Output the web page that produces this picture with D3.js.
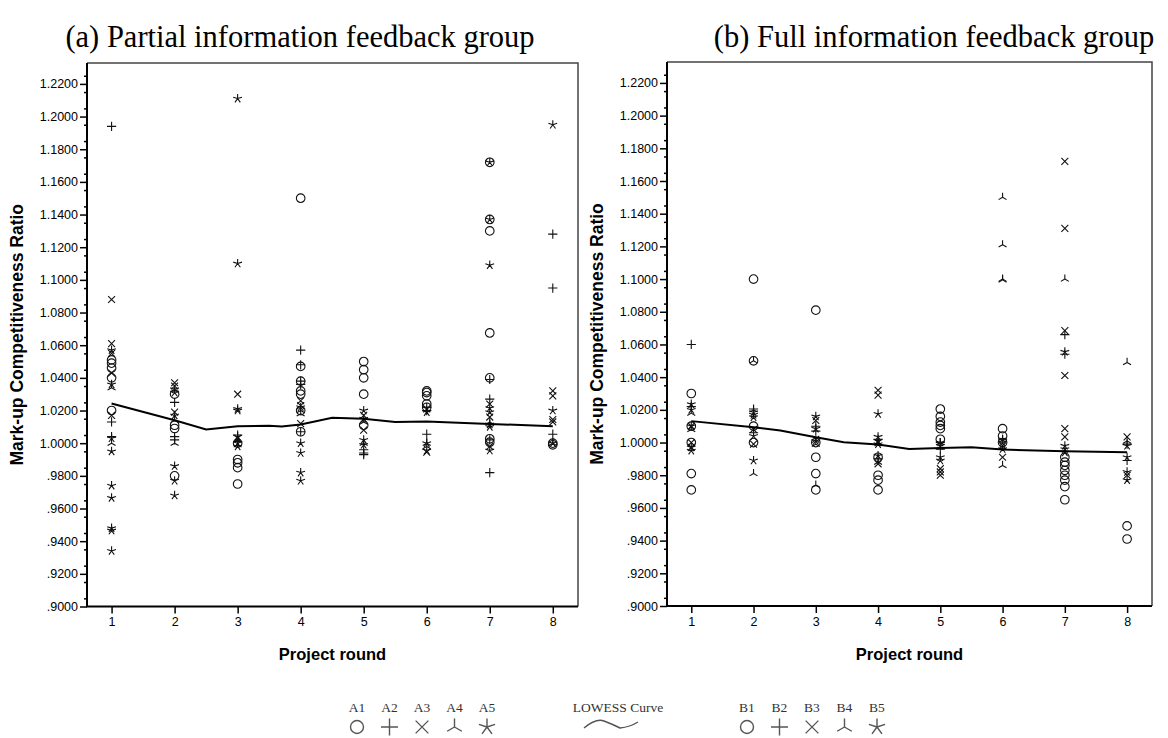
<!DOCTYPE html>
<html>
<head>
<meta charset="utf-8">
<script src="https://cdn.jsdelivr.net/npm/d3@7"></script>
<style>
  body { margin: 0; background: #fff; }
  svg { display: block; }
  .tick text { font-family: Arial, "Liberation Sans", sans-serif; font-size: 12.5px; fill: #000; }
  .domain { display: none; }
</style>
</head>
<body>
<div id="chart"></div>
<script>
// rounds on the x axis
var rounds = [1, 2, 3, 4, 5, 6, 7, 8];
var yTicks = d3.range(0, 17).map(function(i) { return +(0.90 + i * 0.02).toFixed(2); });
var yMinor = d3.range(0, 33).map(function(i) { return +(0.905 + i * 0.01).toFixed(3); });

// partial information group, one list per round (index 0 = round 1)
var A1 = [[1.051, 1.049, 1.046, 1.040, 1.020], [1.030, 1.011, 1.009, 0.980], [1.000, 0.990, 0.988, 0.985, 0.975],
  [1.150, 1.047, 1.038, 1.032, 1.030, 1.020, 1.007], [1.050, 1.045, 1.040, 1.030, 1.011], [1.032, 1.031, 1.029, 1.024, 1.022],
  [1.172, 1.137, 1.130, 1.0675, 1.040, 1.0027, 1.0006], [1.000, 0.999]];
var A2 = [[1.194, 1.013, 1.004], [1.025, 1.004, 1.002], [1.005, 1.001], [1.057, 1.048, 1.038, 1.036, 1.007],
  [0.996, 0.994, 0.993], [1.022, 1.0055, 1.020], [1.039, 1.027, 1.002, 0.982], [1.128, 1.095, 1.0055]];
var A3 = [[1.088, 1.061, 1.055, 1.043, 1.017], [1.037, 1.035, 1.019], [1.030, 1.003], [1.026, 1.023, 1.012],
  [1.017, 1.008], [1.021, 0.9945], [1.024, 1.016, 0.998], [1.032, 1.029, 1.0145, 1.013]];
var A4 = [[1.034, 1.000], [1.014, 1.000], [1.002, 0.999], [1.020, 1.018], [1.013, 1.000], [1.000, 0.998], [1.013], [1.000]];
var A5 = [[1.057, 1.036, 1.003, 0.995, 0.974, 0.9665, 0.948, 0.9465, 0.934], [1.033, 1.031, 1.017, 0.986, 0.977, 0.968],
  [1.211, 1.110, 1.021, 1.020, 1.004, 1.000, 0.998], [1.022, 1.000, 0.994, 0.982, 0.977], [1.020, 1.015, 1.002, 0.999],
  [1.019, 1.000, 0.9955], [1.172, 1.137, 1.109, 1.0215, 1.019, 1.0115, 1.010, 0.9955], [1.195, 1.020, 1.000]];
var lowessA = [[1, 1.0243], [2, 1.014], [2.5, 1.0084], [3, 1.0104], [3.5, 1.0107], [3.7, 1.0102], [4, 1.0114],
  [4.5, 1.0155], [5, 1.0149], [5.5, 1.013], [6, 1.0133], [7, 1.0118], [8, 1.0104]];

// full information group
var B1 = [[1.030, 1.010, 1.000, 0.981, 0.971], [1.100, 1.050, 1.010, 1.000], [1.081, 1.000, 0.991, 0.981, 0.971],
  [0.991, 0.980, 0.977, 0.971], [1.0205, 1.016, 1.0125, 1.0105, 1.0085, 1.002], [1.0085, 1.004, 1.000],
  [0.991, 0.988, 0.986, 0.983, 0.980, 0.977, 0.973, 0.965], [0.949, 0.941]];
var B2 = [[1.060, 1.022], [1.0205, 1.006], [1.010, 1.007], [1.002, 0.990], [1.000, 0.996], [1.002], [1.066, 1.054], [0.999, 0.989]];
var B3 = [[1.010, 1.000, 0.997], [1.008, 0.999], [1.0135, 1.002], [1.032, 1.029, 1.000, 0.987], [0.984, 0.982, 0.980],
  [0.998, 0.991], [1.172, 1.131, 1.0685, 1.041, 1.0085, 1.0035], [1.0035, 0.980]];
var B4 = [[1.018, 1.008], [1.050, 1.020, 0.981], [0.999, 0.974], [0.988], [1.000], [1.150, 1.121, 1.100, 1.0995, 0.986], [1.100], [1.049, 1.001]];
var B5 = [[1.0235, 1.020, 1.010, 0.997, 0.995], [1.0185, 1.017, 1.0155, 1.004, 0.989], [1.016, 1.0085, 1.001],
  [1.0175, 1.0035, 1.001, 0.999, 0.992], [1.000, 0.998, 0.991, 0.989], [1.002, 1.000, 0.996], [1.0555, 0.998, 0.996, 0.994],
  [0.998, 0.991, 0.982, 0.977]];
var lowessB = [[1, 1.0131], [2, 1.0094], [2.43, 1.0073], [3, 1.0033], [3.45, 1.0002], [4, 0.9988], [4.5, 0.9961],
  [5, 0.9967], [5.5, 0.9971], [6, 0.9957], [7, 0.9947], [8, 0.9941]];

var legendA = ["A1", "A2", "A3", "A4", "A5"];
var legendB = ["B1", "B2", "B3", "B4", "B5"];
var shapes = ["circle", "plus", "cross", "tri", "star"];

// marker path centred at 0,0
function shapePath(kind, r) {
  var p = d3.path();
  if (kind == "circle") {
    p.moveTo(r, 0); p.arc(0, 0, r, 0, 2 * Math.PI);
  } else if (kind == "plus") {
    p.moveTo(-r, 0); p.lineTo(r, 0); p.moveTo(0, -r); p.lineTo(0, r);
  } else if (kind == "cross") {
    var c = r * 0.75;
    p.moveTo(-c, -c); p.lineTo(c, c); p.moveTo(-c, c); p.lineTo(c, -c);
  } else {
    var angles = kind == "tri" ? [-90, 30, 150] : [-90, -18, 54, 126, 198];
    angles.forEach(function(a) {
      var t = a * Math.PI / 180;
      p.moveTo(0, 0); p.lineTo(r * Math.cos(t), r * Math.sin(t));
    });
  }
  return p.toString();
}

var width = 1168, height = 738;
var svg = d3.select("#chart").append("svg").attr("width", width).attr("height", height);

function fmt(v) {
  var s = v.toFixed(4);
  return v < 1 ? s.slice(1) : s;
}

function drawPanel(opt) {
  var x = d3.scaleLinear().domain([0.61, 8.4]).range([opt.left, opt.right]);
  var y = d3.scaleLinear().domain([0.9, 1.2328]).range([opt.bottom, opt.top]);
  var g = svg.append("g");

  // frame top/right
  g.append("path")
    .attr("d", "M" + opt.left + "," + opt.top + "H" + opt.right + "V" + opt.bottom)
    .attr("fill", "none").attr("stroke", "#444").attr("stroke-width", 1.5);

  var yAxis = g.append("g").attr("transform", "translate(" + opt.left + ",0)")
    .call(d3.axisLeft(y).tickValues(yTicks).tickSize(7).tickPadding(2).tickFormat(fmt));
  yAxis.selectAll("line").attr("stroke", "#000").attr("stroke-width", 1.5);
  var yMin = g.append("g").attr("transform", "translate(" + opt.left + ",0)")
    .call(d3.axisLeft(y).tickValues(yMinor).tickSize(3).tickFormat(""));
  yMin.selectAll("line").attr("stroke", "#000").attr("stroke-width", 1.5);

  var xAxis = g.append("g").attr("transform", "translate(0," + opt.bottom + ")")
    .call(d3.axisBottom(x).tickValues(rounds).tickSize(7).tickPadding(4).tickFormat(d3.format("d")));
  xAxis.selectAll("line").attr("stroke", "#000").attr("stroke-width", 1.5);

  g.append("path")
    .attr("d", "M" + opt.left + "," + opt.top + "V" + opt.bottom + "H" + opt.right)
    .attr("fill", "none").attr("stroke", "#000").attr("stroke-width", 2);

  // points
  opt.series.forEach(function(ser, si) {
    var pts = [];
    ser.forEach(function(vals, ri) {
      vals.forEach(function(v) { pts.push({round: rounds[ri], value: v}); });
    });
    g.append("g").selectAll("path").data(pts).join("path")
      .attr("transform", function(d) { return "translate(" + x(d.round) + "," + y(d.value) + ")"; })
      .attr("d", shapePath(shapes[si], shapes[si] == "circle" ? 4.3 : 4.6))
      .attr("fill", "none").attr("stroke", "#111").attr("stroke-width", 1.1);
  });

  // lowess curve
  g.append("path").datum(opt.lowess)
    .attr("d", d3.line().x(function(d) { return x(d[0]); }).y(function(d) { return y(d[1]); }))
    .attr("fill", "none").attr("stroke", "#000").attr("stroke-width", 2);

  // labels
  svg.append("text").attr("x", opt.titleX).attr("y", 47).attr("text-anchor", "middle")
    .style("font-family", "'Liberation Serif', 'Times New Roman', serif").style("font-size", "30.5px")
    .text(opt.title);
  svg.append("text")
    .attr("transform", "translate(" + (opt.left - 64) + "," + ((opt.top + opt.bottom) / 2) + ") rotate(-90)")
    .attr("text-anchor", "middle")
    .style("font-family", "Arial, 'Liberation Sans', sans-serif").style("font-size", "17.5px").style("font-weight", "bold")
    .text("Mark-up Competitiveness Ratio");
  svg.append("text").attr("x", (opt.left + opt.right) / 2).attr("y", 660).attr("text-anchor", "middle")
    .style("font-family", "Arial, 'Liberation Sans', sans-serif").style("font-size", "16.5px").style("font-weight", "bold")
    .text("Project round");
}

drawPanel({left: 87, right: 578, top: 63, bottom: 606.5, series: [A1, A2, A3, A4, A5], lowess: lowessA,
  title: "(a) Partial information feedback group", titleX: 300});
drawPanel({left: 667, right: 1152, top: 62, bottom: 606, series: [B1, B2, B3, B4, B5], lowess: lowessB,
  title: "(b) Full information feedback group", titleX: 934});

// legend
var lg = svg.append("g");
function legendGroup(names, x0) {
  names.forEach(function(n, i) {
    var cx = x0 + i * 32.5;
    lg.append("text").attr("x", cx).attr("y", 712).attr("text-anchor", "middle")
      .style("font-family", "'Liberation Serif', 'Times New Roman', serif").style("font-size", "13.5px")
      .attr("fill", "#333").text(n);
    lg.append("path").attr("transform", "translate(" + cx + ",727)")
      .attr("d", shapePath(shapes[i], shapes[i] == "circle" ? 6.5 : 8.5))
      .attr("fill", "none").attr("stroke", "#555").attr("stroke-width", 1.4);
  });
}
legendGroup(legendA, 357);
legendGroup(legendB, 747);
lg.append("text").attr("x", 618).attr("y", 712).attr("text-anchor", "middle")
  .style("font-family", "'Liberation Serif', 'Times New Roman', serif").style("font-size", "13.5px")
  .attr("fill", "#333").text("LOWESS Curve");
lg.append("path").attr("d", "M584,728 Q596,718 604,721 T620,728 Q630,727 638,722")
  .attr("fill", "none").attr("stroke", "#555").attr("stroke-width", 1.4);
</script>
</body>
</html>
